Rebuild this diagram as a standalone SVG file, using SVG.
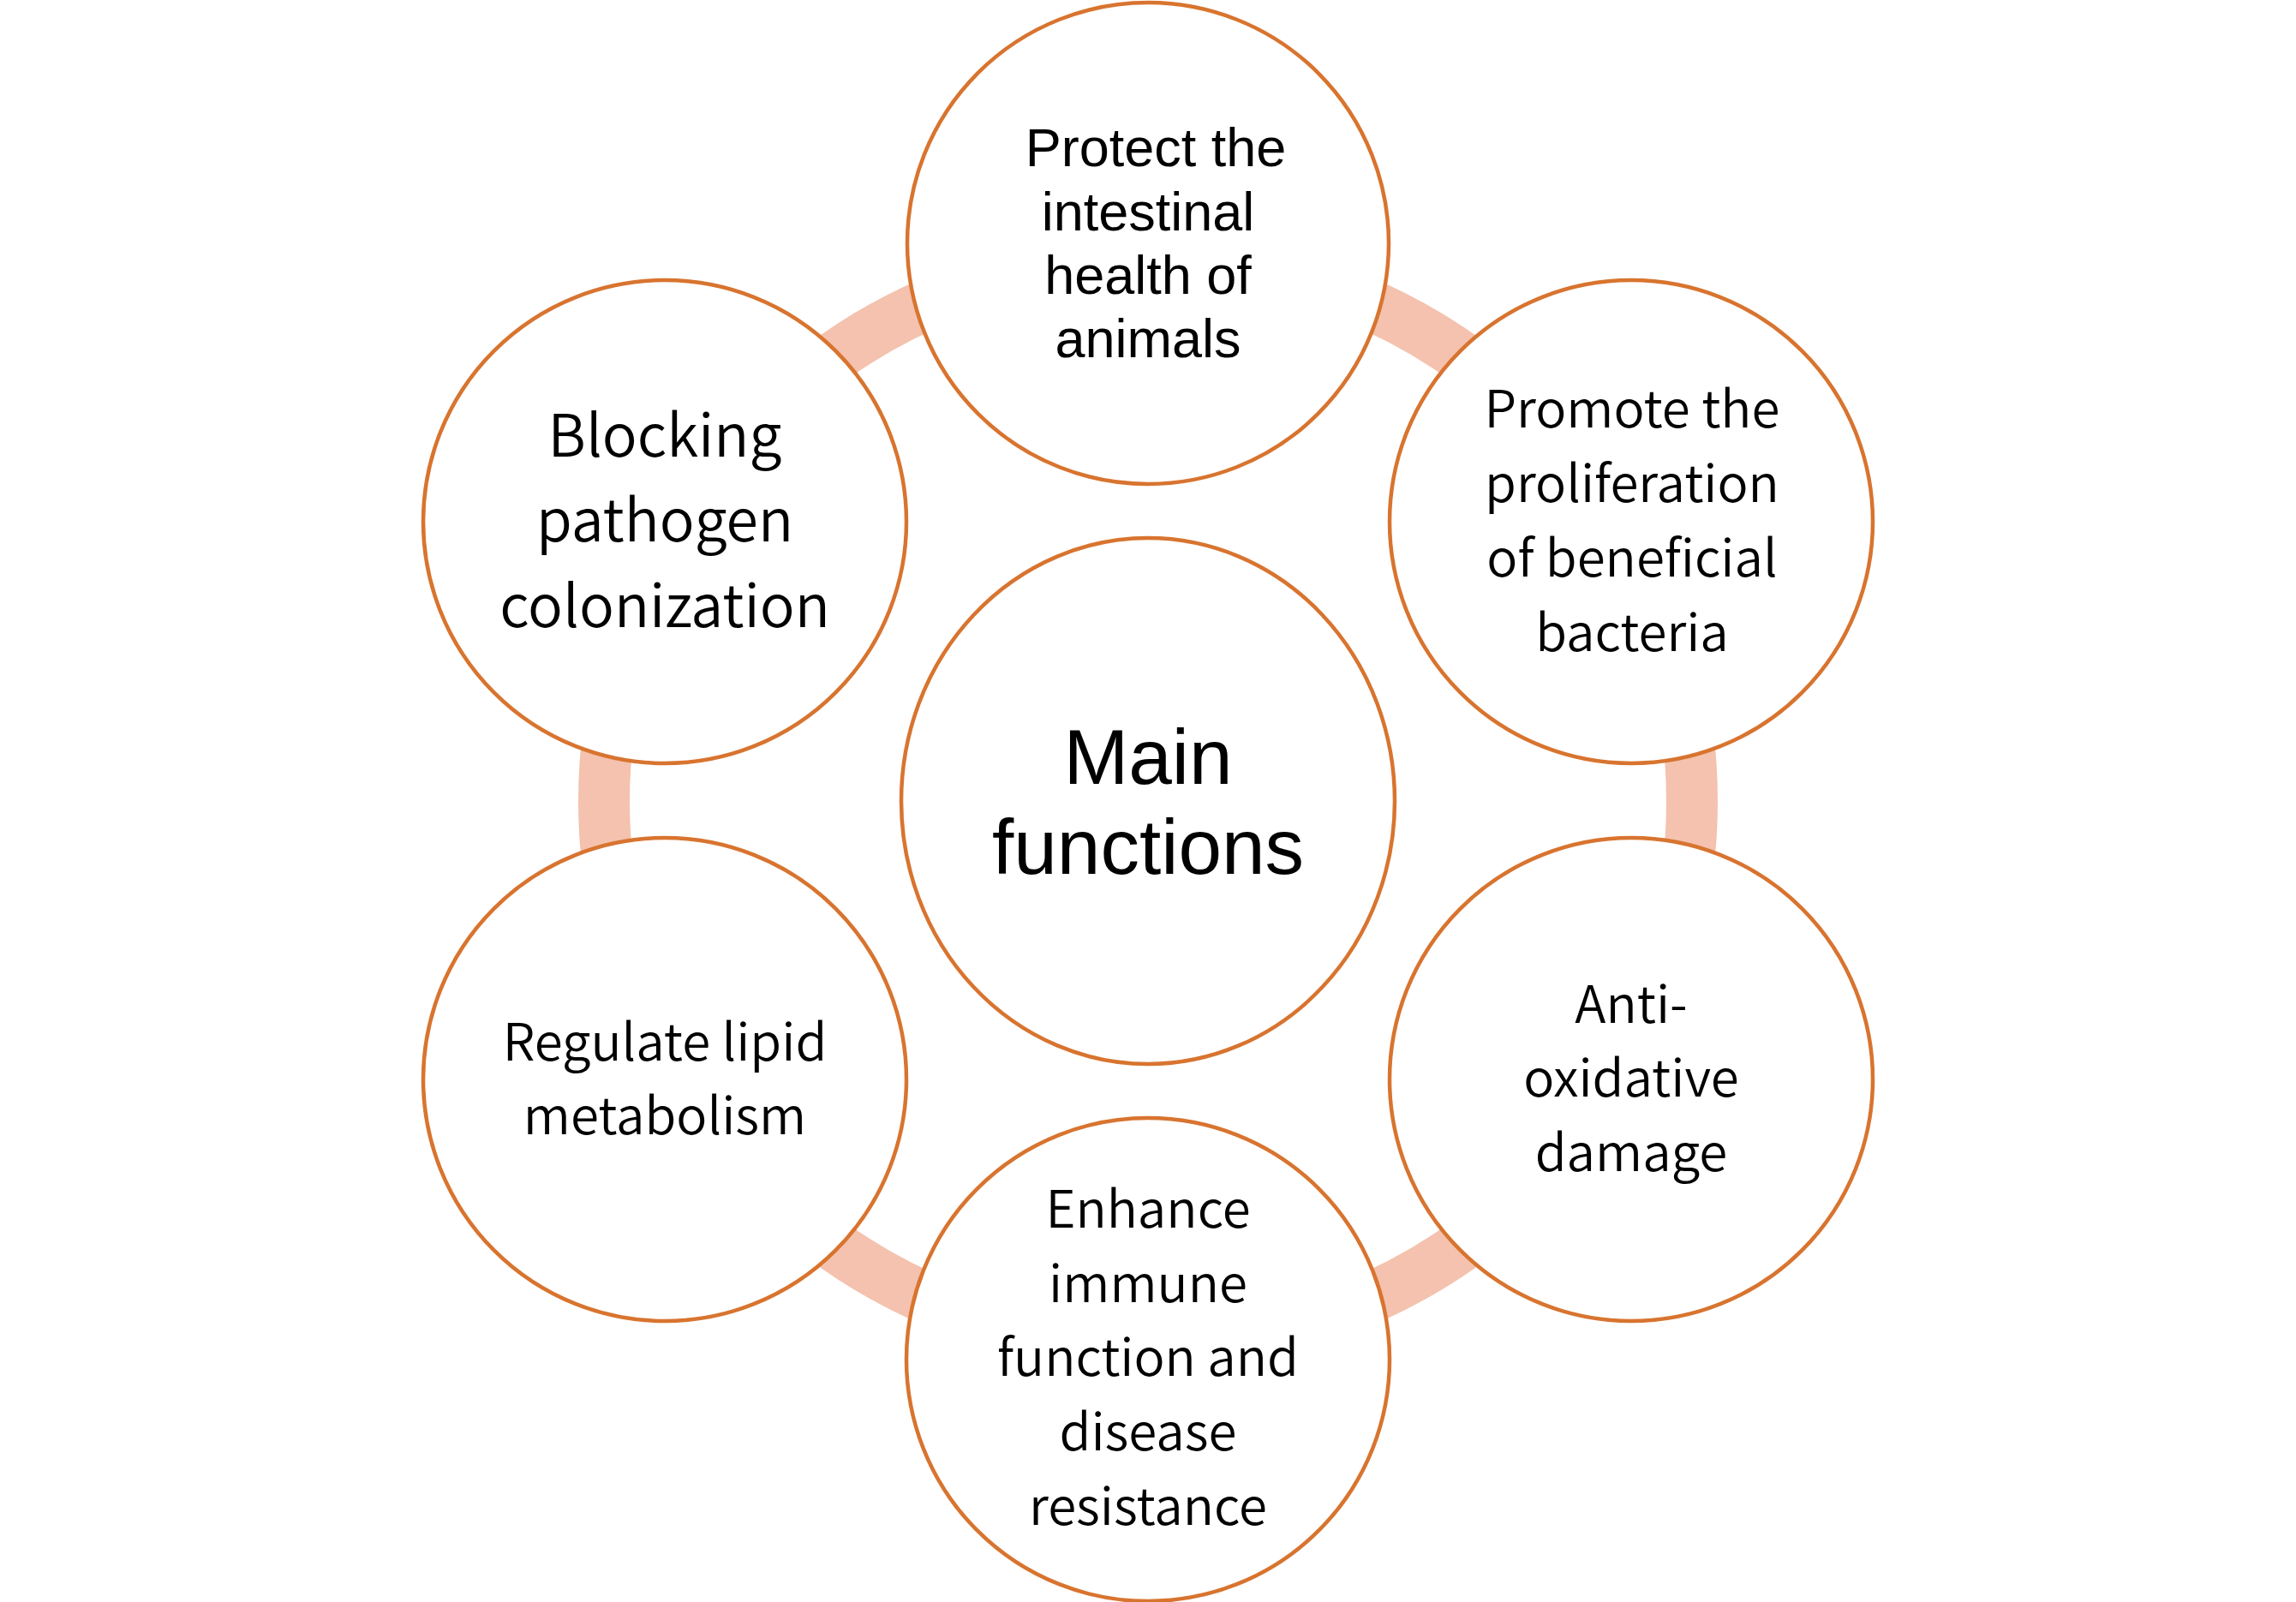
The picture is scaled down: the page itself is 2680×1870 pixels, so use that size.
<svg xmlns="http://www.w3.org/2000/svg" width="2680" height="1870" viewBox="0 0 2680 1870">
<style>
.node{fill:#FFFFFF;stroke:#D8742F;stroke-width:4.5}
.ring{fill:none;stroke:#F4C2AE;stroke-width:60}
.t{font-family:"Noto Sans CJK SC","Noto Sans",sans-serif;font-size:60px;font-weight:350;fill:#000;text-anchor:middle}
.tb{font-size:68px}
.a{font-family:"Liberation Sans",Arial,sans-serif;fill:#000;text-anchor:middle}
</style>
<rect width="2680" height="1870" fill="#FFFFFF"/>
<g id="connectors">
<circle class="ring" cx="1340" cy="935.5" r="635"/>
</g>
<g id="center">
<ellipse class="node" cx="1340" cy="935" rx="288" ry="307"/>
<text class="a" font-size="91"><tspan x="1340" y="915">Main</tspan><tspan x="1340" y="1020">functions</tspan></text>
</g>
<g id="n-top">
<circle class="node" cx="1340" cy="284" r="281"/>
<text class="a" font-size="63"><tspan x="1349" y="194">Protect the</tspan><tspan x="1340" y="268.5">intestinal</tspan><tspan x="1340" y="342.6">health of</tspan><tspan x="1340" y="417">animals</tspan></text>
</g>
<g id="n-tr">
<circle class="node" cx="1904" cy="609" r="282"/>
<text class="t"><tspan x="1905" y="499">Promote the</tspan><tspan x="1905" y="585.5">proliferation</tspan><tspan x="1905" y="672.5">of beneficial</tspan><tspan x="1905" y="759.5">bacteria</tspan></text>
</g>
<g id="n-br">
<circle class="node" cx="1904" cy="1260" r="282"/>
<text class="t"><tspan x="1904" y="1194">Anti-</tspan><tspan x="1904" y="1280">oxidative</tspan><tspan x="1904" y="1367">damage</tspan></text>
</g>
<g id="n-bottom">
<circle class="node" cx="1340" cy="1587" r="282"/>
<text class="t"><tspan x="1340" y="1433">Enhance</tspan><tspan x="1340" y="1519.5">immune</tspan><tspan x="1340" y="1606">function and</tspan><tspan x="1340" y="1693">disease</tspan><tspan x="1340" y="1780">resistance</tspan></text>
</g>
<g id="n-bl">
<circle class="node" cx="776" cy="1260" r="282"/>
<text class="t"><tspan x="776" y="1238">Regulate lipid</tspan><tspan x="776" y="1324">metabolism</tspan></text>
</g>
<g id="n-tl">
<circle class="node" cx="776" cy="609" r="282"/>
<text class="t tb"><tspan x="776" y="533">Blocking</tspan><tspan x="776" y="632">pathogen</tspan><tspan x="776" y="732">colonization</tspan></text>
</g>
</svg>
